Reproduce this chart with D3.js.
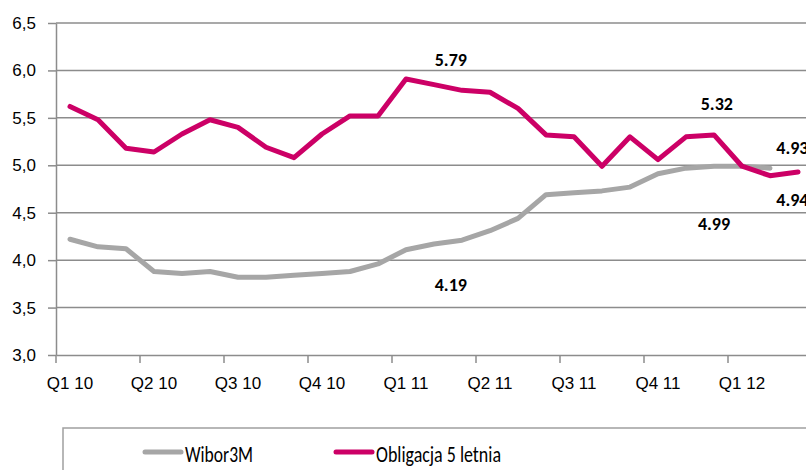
<!DOCTYPE html>
<html>
<head>
<meta charset="utf-8">
<script src="https://cdn.jsdelivr.net/npm/d3@7"></script>
<style>
	body { margin: 0; background: #fff; }
	svg { display: block; font-family: Carlito, Lato, sans-serif; }
	.axis text { fill: #000; font-size: 17px; }
	.axis path, .axis line { stroke: #8c8c8c; stroke-width: 1.5; }
	.grid line { stroke: #8c8c8c; stroke-width: 1.5; }
	.note { font-size: 18px; font-weight: bold; fill: #000; }
	.legend text { font-size: 23px; fill: #000; }
</style>
</head>
<body>
<div id="chart"></div>
<script>

// monthly observations, Jan 2010 - Mar 2012
let months = ["2010-01","2010-02","2010-03","2010-04","2010-05","2010-06","2010-07","2010-08","2010-09",
	"2010-10","2010-11","2010-12","2011-01","2011-02","2011-03","2011-04","2011-05","2011-06",
	"2011-07","2011-08","2011-09","2011-10","2011-11","2011-12","2012-01","2012-02","2012-03"];

let quarterLabels = ["Q1 10","Q2 10","Q3 10","Q4 10","Q1 11","Q2 11","Q3 11","Q4 11","Q1 12"];

let wibor = [4.22,4.14,4.12,3.88,3.86,3.88,3.82,3.82,3.84,3.86,3.88,3.96,4.11,4.17,4.21,4.31,4.44,4.69,
	4.71,4.73,4.77,4.91,4.97,4.99,4.99,4.97];

let obligacja = [5.62,5.48,5.18,5.14,5.33,5.48,5.40,5.19,5.08,5.33,5.52,5.52,5.91,5.85,5.79,5.77,5.60,5.32,
	5.30,4.99,5.30,5.06,5.30,5.32,4.99,4.89,4.93];

let yTicks = [3.0,3.5,4.0,4.5,5.0,5.5,6.0,6.5];

// annotation texts, placed by month index / value level
let noteLabels = ["5.79","4.19","5.32","4.99","4.93","4.94"];
let notePos = [13.6,13.6,23.1,23.0,25.8,25.8];
let noteLevel = [6.05,3.67,5.58,4.32,5.12,4.57];

let seriesNames = ["Wibor3M","Obligacja 5 letnia"];
let seriesColors = ["#a6a6a6","#cc0066"];
let legendWidths = [68, 125];

let margin = {top: 23, left: 56, bottom: 115};
let width = 806, height = 470;

let svg = d3.select("#chart").append("svg")
	.attr("width", width)
	.attr("height", height);

let x = d3.scaleBand()
	.domain(months)
	.range([margin.left, margin.left + months.length * 28])
	.padding(0);

let xi = d3.scaleLinear()
	.domain([0, months.length])
	.range([margin.left, margin.left + months.length * 28]);

let y = d3.scaleLinear()
	.domain([3, 6.5])
	.range([height - margin.bottom, margin.top]);

// gridlines
svg.append("g")
	.attr("class", "grid")
	.selectAll("line")
	.data(yTicks.slice(1))
	.enter()
	.append("line")
	.attr("x1", margin.left)
	.attr("x2", width)
	.attr("y1", d => y(d))
	.attr("y2", d => y(d));

// y axis
let yAxis = d3.axisLeft(y)
	.tickValues(yTicks)
	.tickSize(8)
	.tickSizeOuter(0)
	.tickPadding(12)
	.tickFormat(d => d3.format(".1f")(d).replace(".", ","));

svg.append("g")
	.attr("class", "y-axis axis")
	.attr("transform", "translate(" + margin.left + ",0)")
	.call(yAxis);

// x axis: ticks between quarters, labels under first month of quarter
let quarterMonths = months.filter((d, i) => i % 3 === 0);

let xAxis = d3.axisBottom(x)
	.tickValues(quarterMonths)
	.tickSize(8)
	.tickSizeOuter(0)
	.tickPadding(14)
	.tickFormat((d, i) => quarterLabels[i]);

let xAxisGroup = svg.append("g")
	.attr("class", "x-axis axis")
	.attr("transform", "translate(0," + y(3) + ")")
	.call(xAxis);

xAxisGroup.selectAll(".tick line")
	.attr("x1", -x.bandwidth() / 2)
	.attr("x2", -x.bandwidth() / 2);

// lines
let line = d3.line()
	.x((d, i) => x(months[i]) + x.bandwidth() / 2)
	.y(d => y(d));

[wibor, obligacja].forEach((values, k) => {
	svg.append("path")
		.datum(values)
		.attr("fill", "none")
		.attr("stroke", seriesColors[k])
		.attr("stroke-width", 5)
		.attr("stroke-linejoin", "round")
		.attr("stroke-linecap", "round")
		.attr("d", line);
});

// annotations
svg.selectAll("text.note")
	.data(noteLabels)
	.enter()
	.append("text")
	.attr("class", "note")
	.attr("text-anchor", "middle")
	.attr("x", (d, i) => xi(notePos[i] + 0.5))
	.attr("y", (d, i) => y(noteLevel[i]))
	.text(d => d);

// legend
let legend = svg.append("g").attr("class", "legend");

legend.append("rect")
	.attr("x", 63)
	.attr("y", 428)
	.attr("width", 800)
	.attr("height", 80)
	.attr("fill", "#fff")
	.attr("stroke", "#a0a0a0")
	.attr("stroke-width", 1.5);

let legendX = [145, 336];

seriesNames.forEach((name, k) => {
	legend.append("line")
		.attr("x1", legendX[k])
		.attr("x2", legendX[k] + 36)
		.attr("y1", 452)
		.attr("y2", 452)
		.attr("stroke", seriesColors[k])
		.attr("stroke-width", 5)
		.attr("stroke-linecap", "round");

	legend.append("text")
		.attr("x", legendX[k] + 40)
		.attr("y", 462)
		.attr("textLength", legendWidths[k])
		.attr("lengthAdjust", "spacingAndGlyphs")
		.text(name);
});

</script>
</body>
</html>
